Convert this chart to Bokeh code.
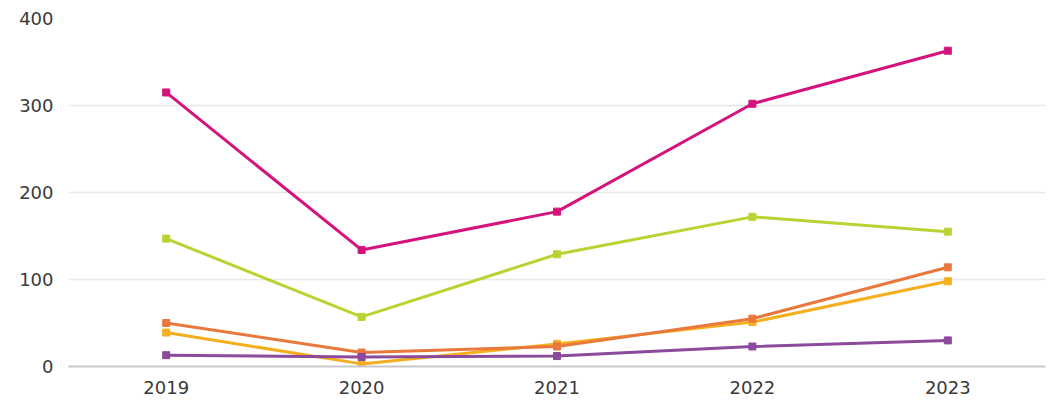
from bokeh.plotting import figure
from bokeh.models import Range1d, FixedTicker
from bokeh.embed import file_html
from bokeh.resources import INLINE

years = [2019, 2020, 2021, 2022, 2023]
magenta_vals = [315, 134, 178, 302, 363]
lime_vals = [147, 57, 129, 172, 155]
orange_vals = [50, 16, 23, 55, 114]
yellow_vals = [39, 3, 26, 51, 98]
purple_vals = [13, 11, 12, 23, 30]
y_ticks = [0, 100, 200, 300, 400]

series = [
    (magenta_vals, "#d4147c"),
    (lime_vals, "#b8d433"),
    (yellow_vals, "#f5ae1e"),
    (orange_vals, "#e9783c"),
    (purple_vals, "#8b4a9c"),
]

p = figure(width=1050, height=400, output_backend="svg", toolbar_location=None,
           x_range=Range1d(2018.5, 2023.5), y_range=Range1d(0, 400),
           min_border_left=68, min_border_right=5, min_border_top=18, min_border_bottom=34)
p.outline_line_color = None

for vals, col in series:
    p.line(years, vals, line_color=col, line_width=3)
    p.scatter(years, vals, marker="square", size=7, fill_color=col, line_color=col)

p.xaxis.ticker = FixedTicker(ticks=years)
p.yaxis.ticker = FixedTicker(ticks=y_ticks)
p.xgrid.grid_line_color = None
p.ygrid.grid_line_color = "#e8e8e8"
p.ygrid.grid_line_width = 1.5
p.yaxis.axis_line_color = None
p.yaxis.major_tick_line_color = None
p.yaxis.minor_tick_line_color = None
p.xaxis.axis_line_color = "#c8c8c8"
p.xaxis.axis_line_width = 2
p.xaxis.major_tick_line_color = None
p.xaxis.minor_tick_line_color = None
for ax in (p.xaxis, p.yaxis):
    ax.major_label_text_font = "DejaVu Sans"
    ax.major_label_text_font_size = "18px"
    ax.major_label_text_color = "#3a3a3a"
p.yaxis.major_label_standoff = 9
p.xaxis.major_label_standoff = 8

open("out.html", "w").write(file_html(p, INLINE))
